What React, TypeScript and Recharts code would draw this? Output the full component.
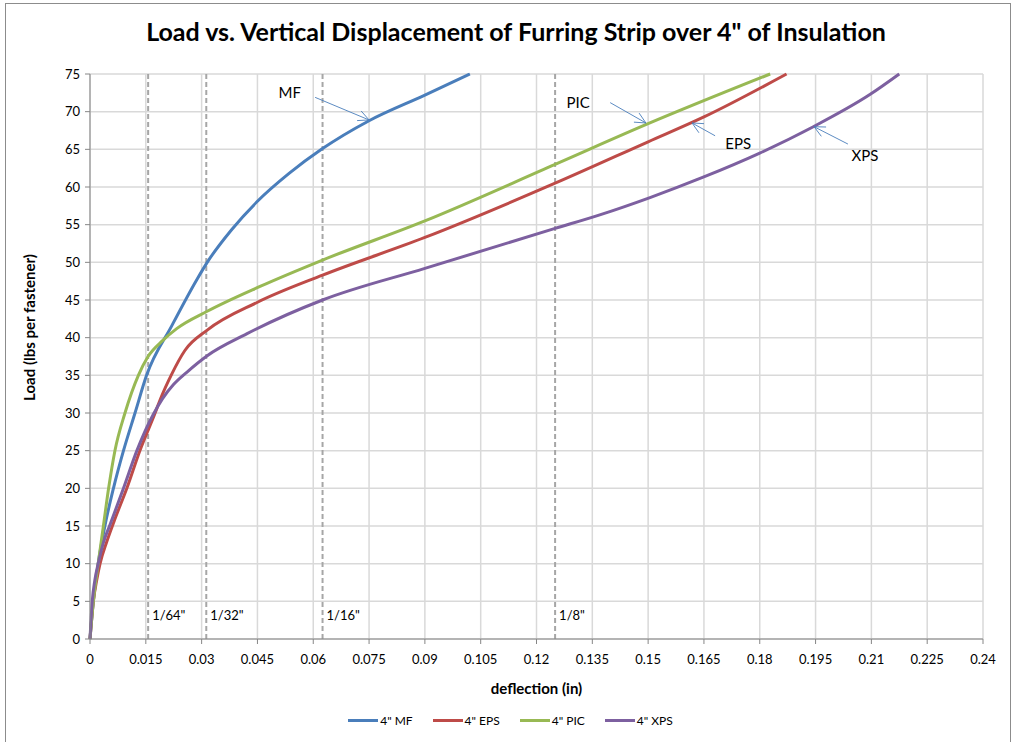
import React from 'react';
import {
  LineChart, Line, XAxis, YAxis, CartesianGrid, ReferenceLine, ReferenceDot, Legend,
} from 'recharts';

// deflection (in) vs load (lbs per fastener)
const mfData = [
  { x: 0, y: 0 }, { x: 0.0009, y: 5 }, { x: 0.0022, y: 10 }, { x: 0.004, y: 15 },
  { x: 0.0063, y: 20 }, { x: 0.009, y: 25 }, { x: 0.0121, y: 30 }, { x: 0.0152, y: 35 },
  { x: 0.022, y: 41.6 }, { x: 0.0287, y: 47.7 }, { x: 0.0315, y: 50 }, { x: 0.038, y: 54.3 },
  { x: 0.045, y: 58.1 }, { x: 0.0535, y: 61.8 }, { x: 0.0625, y: 65.1 }, { x: 0.075, y: 68.8 },
  { x: 0.09, y: 72.2 }, { x: 0.1021, y: 75 },
];

const epsData = [
  { x: 0, y: 0 }, { x: 0.0009, y: 5 }, { x: 0.0018, y: 7.8 }, { x: 0.0027, y: 10 },
  { x: 0.0045, y: 12.9 }, { x: 0.0066, y: 15.8 }, { x: 0.0099, y: 20 }, { x: 0.0134, y: 25 },
  { x: 0.0175, y: 30 }, { x: 0.0188, y: 31.7 }, { x: 0.022, y: 35.2 }, { x: 0.0255, y: 38.3 },
  { x: 0.0315, y: 41 }, { x: 0.045, y: 44.7 }, { x: 0.0625, y: 48.3 }, { x: 0.09, y: 53.3 },
  { x: 0.125, y: 60.5 }, { x: 0.15, y: 66 }, { x: 0.165, y: 69.3 }, { x: 0.1872, y: 75 },
];

const picData = [
  { x: 0, y: 0 }, { x: 0.0009, y: 5 }, { x: 0.0022, y: 10 }, { x: 0.0036, y: 15 },
  { x: 0.005, y: 20 }, { x: 0.0067, y: 25 }, { x: 0.0094, y: 30 }, { x: 0.013, y: 35 },
  { x: 0.0156, y: 37.5 }, { x: 0.0195, y: 39.6 }, { x: 0.0233, y: 41.2 }, { x: 0.0315, y: 43.5 },
  { x: 0.0457, y: 46.8 }, { x: 0.0625, y: 50.3 }, { x: 0.09, y: 55.5 }, { x: 0.125, y: 63 },
  { x: 0.15, y: 68.4 }, { x: 0.1828, y: 75 },
];

const xpsData = [
  { x: 0, y: 0 }, { x: 0.0006, y: 5 }, { x: 0.0013, y: 7.8 }, { x: 0.0022, y: 10 },
  { x: 0.0036, y: 12.8 }, { x: 0.0054, y: 15.2 }, { x: 0.009, y: 20 }, { x: 0.0126, y: 25 },
  { x: 0.0148, y: 27.6 }, { x: 0.017, y: 29.8 }, { x: 0.0195, y: 31.9 }, { x: 0.0225, y: 33.8 },
  { x: 0.026, y: 35.4 }, { x: 0.0315, y: 37.6 }, { x: 0.0421, y: 40.5 }, { x: 0.0625, y: 45 },
  { x: 0.09, y: 49.2 }, { x: 0.125, y: 54.5 }, { x: 0.137, y: 56.3 }, { x: 0.1505, y: 58.6 },
  { x: 0.1648, y: 61.3 }, { x: 0.18, y: 64.5 }, { x: 0.1944, y: 68 }, { x: 0.2097, y: 72.3 },
  { x: 0.2175, y: 75 },
];

const xTicks = [0, 0.015, 0.03, 0.045, 0.06, 0.075, 0.09, 0.105, 0.12, 0.135, 0.15, 0.165, 0.18, 0.195, 0.21, 0.225, 0.24];
const yTicks = [0, 5, 10, 15, 20, 25, 30, 35, 40, 45, 50, 55, 60, 65, 70, 75];

const fractions = [
  { x: 1 / 64, label: '1/64"' },
  { x: 1 / 32, label: '1/32"' },
  { x: 1 / 16, label: '1/16"' },
  { x: 1 / 8, label: '1/8"' },
];

// callouts: text position and arrow from/to, in data units
const callouts = [
  { name: 'MF', tx: 0.0537, ty: 72.5, x1: 0.0605, y1: 71.9, x2: 0.075, y2: 68.9 },
  { name: 'PIC', tx: 0.1312, ty: 71.2, x1: 0.1398, y1: 71.2, x2: 0.1494, y2: 68.5 },
  { name: 'EPS', tx: 0.1742, ty: 65.8, x1: 0.168, y1: 66.8, x2: 0.1618, y2: 68.5 },
  { name: 'XPS', tx: 0.2083, ty: 64.2, x1: 0.2037, y1: 65.7, x2: 0.1946, y2: 68.0 },
];

const series = [
  { name: '4" MF', data: mfData, color: '#4A7EBB' },
  { name: '4" EPS', data: epsData, color: '#BE4B48' },
  { name: '4" PIC', data: picData, color: '#98B954' },
  { name: '4" XPS', data: xpsData, color: '#7D60A0' },
];

const FONT = "Lato, 'Open Sans', sans-serif";

const fmt = (v: number) => String(Number(v.toFixed(3)));

const Arrow = (props: any) => {
  const { x1, y1, x2, y2 } = props;
  const a = Math.atan2(y2 - y1, x2 - x1);
  const len = 12;
  const spread = 0.45;
  const p1 = { x: x2 - len * Math.cos(a - spread), y: y2 - len * Math.sin(a - spread) };
  const p2 = { x: x2 - len * Math.cos(a + spread), y: y2 - len * Math.sin(a + spread) };
  return (
    <g stroke="#4A7EBB" strokeWidth={0.9} fill="none">
      <line x1={x1} y1={y1} x2={x2} y2={y2} />
      <line x1={x2} y1={y2} x2={p1.x} y2={p1.y} />
      <line x1={x2} y1={y2} x2={p2.x} y2={p2.y} />
    </g>
  );
};

const LegendContent = () => (
  <div style={{ display: 'flex', justifyContent: 'center', gap: 20, fontFamily: FONT, fontSize: 12, color: '#000', paddingLeft: 8 }}>
    {series.map((s) => (
      <div key={s.name} style={{ display: 'flex', alignItems: 'center', gap: 2 }}>
        <span style={{ display: 'inline-block', width: 30, height: 3, background: s.color }} />
        <span>{s.name}</span>
      </div>
    ))}
  </div>
);

const YLabel = (p: any) => {
  const vb = p.viewBox;
  const cx = vb.x + vb.width - 61;
  const cy = vb.y + vb.height / 2 - 29;
  return (
    <text x={cx} y={cy} transform={`rotate(-90 ${cx} ${cy})`} textAnchor="middle" dominantBaseline="central"
      fontSize={15} fontWeight="bold" fill="#000" fontFamily={FONT}>
      Load (lbs per fastener)
    </text>
  );
};

export default function App() {
  return (
    <div style={{ position: 'absolute', left: 0, top: 0, width: 1017, height: 742, background: '#fff' }}>
      <div style={{ position: 'absolute', left: 5, top: 3, width: 1006, height: 760, border: '1px solid #8c8c8c', boxSizing: 'border-box' }} />
      <div style={{ position: 'absolute', left: 0, top: 16, width: 1032, textAlign: 'center', fontFamily: FONT, fontWeight: 'bold', fontSize: 25, color: '#000' }}>
        Load vs. Vertical Displacement of Furring Strip over 4" of Insulation
      </div>
      <LineChart
        width={1017}
        height={742}
        margin={{ top: 74, right: 34, left: 30, bottom: 58 }}
        style={{ fontFamily: FONT }}
      >
        <CartesianGrid stroke="#d9d9d9" strokeWidth={1.5} />
        <XAxis
          type="number"
          dataKey="x"
          domain={[0, 0.24]}
          ticks={xTicks}
          tickFormatter={fmt}
          interval={0}
          stroke="#868686"
          tick={{ fill: '#000', fontSize: 13 }}
          tickSize={5}
          tickMargin={11}
          height={30}
          label={{ value: 'deflection (in)', position: 'insideBottom', offset: -25, fill: '#000', fontSize: 15, fontWeight: 'bold' }}
        />
        <YAxis
          type="number"
          dataKey="y"
          domain={[0, 75]}
          ticks={yTicks}
          interval={0}
          stroke="#868686"
          tick={{ fill: '#000', fontSize: 13 }}
          tickSize={5}
          tickMargin={5}
          width={60}
          label={YLabel}
        />
        {fractions.map((f) => (
          <ReferenceLine
            key={f.label}
            x={f.x}
            stroke="#a6a6a6"
            strokeWidth={2}
            strokeDasharray="5 3"
            label={(p: any) => (
              <text x={p.viewBox.x + 4} y={p.viewBox.y + p.viewBox.height - 19} fontSize={13} fill="#000" fontFamily={FONT}>
                {f.label}
              </text>
            )}
          />
        ))}
        {series.map((s) => (
          <Line
            key={s.name}
            name={s.name}
            data={s.data}
            dataKey="y"
            type="monotone"
            stroke={s.color}
            strokeWidth={3}
            dot={false}
            isAnimationActive={false}
          />
        ))}
        {callouts.map((c) => (
          <ReferenceLine
            key={c.name + '-arrow'}
            segment={[{ x: c.x1, y: c.y1 }, { x: c.x2, y: c.y2 }]}
            shape={Arrow}
          />
        ))}
        {callouts.map((c) => (
          <ReferenceDot
            key={c.name + '-label'}
            x={c.tx}
            y={c.ty}
            r={0}
            fill="none"
            stroke="none"
            label={{ value: c.name, position: 'center', fontSize: 15, fill: '#000' }}
          />
        ))}
        <Legend verticalAlign="bottom" content={LegendContent} wrapperStyle={{ bottom: 14 }} />
      </LineChart>
    </div>
  );
}
